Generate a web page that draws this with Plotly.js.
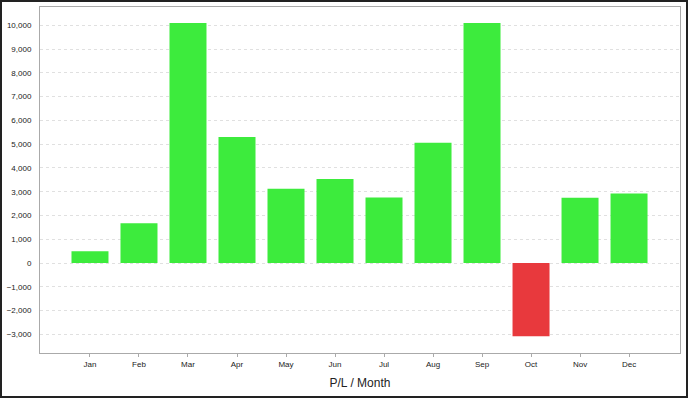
<!DOCTYPE html>
<html>
<head>
<meta charset="utf-8">
<script src="https://cdn.plot.ly/plotly-3.0.1.min.js"></script>
<style>
html,body{margin:0;padding:0;background:#fff;}
#wrap{position:relative;width:688px;height:398px;}
#chart{position:absolute;left:0;top:0;width:688px;height:398px;}
#frame{position:absolute;left:0;top:0;width:688px;height:398px;box-sizing:border-box;border:2px solid #222;pointer-events:none;}
</style>
</head>
<body>
<div id="wrap"><div id="chart"></div><div id="frame"></div></div>
<script>
const months = ["Jan","Feb","Mar","Apr","May","Jun","Jul","Aug","Sep","Oct","Nov","Dec"];
const profitLoss = [500, 1680, 10100, 5300, 3130, 3535, 2755, 5065, 10100, -3080, 2750, 2930];
const yTickValues = [-3000,-2000,-1000,0,1000,2000,3000,4000,5000,6000,7000,8000,9000,10000];

const gainColor = "#3deb3d";
const lossColor = "#e8393d";
const barColors = profitLoss.map(v => v >= 0 ? gainColor : lossColor);

const trace = {
  type: "bar",
  x: months,
  y: profitLoss,
  marker: {color: barColors, line: {width: 0}},
  hoverinfo: "x+y"
};

const layout = {
  width: 688, height: 398,
  margin: {l: 40, r: 8, t: 7, b: 45},
  paper_bgcolor: "#fff",
  plot_bgcolor: "#fff",
  bargap: 0.245,
  showlegend: false,
  font: {family: "Liberation Sans, Arial, sans-serif", color: "#222", size: 8},
  xaxis: {
    type: "category",
    range: [-1.02, 12.04],
    showgrid: false,
    showline: true, mirror: true, linecolor: "#aaa", linewidth: 1,
    ticks: "outside", ticklen: 3, tickcolor: "#aaa",
    tickfont: {size: 8, color: "#222"},
    title: {text: "P/L / Month", font: {size: 12, color: "#222"}, standoff: 11}
  },
  yaxis: {
    range: [-3782, 10770],
    tickvals: yTickValues,
    tickformat: ",d",
    showgrid: true, gridcolor: "#e0e0e0", griddash: "3px,3px", gridwidth: 1,
    zeroline: false,
    showline: true, mirror: true, linecolor: "#aaa", linewidth: 1,
    ticks: "",
    ticklabelstandoff: 6,
    tickfont: {size: 8, color: "#222"}
  }
};

Plotly.newPlot("chart", [trace], layout, {displayModeBar: false, staticPlot: true});
</script>
</body>
</html>
